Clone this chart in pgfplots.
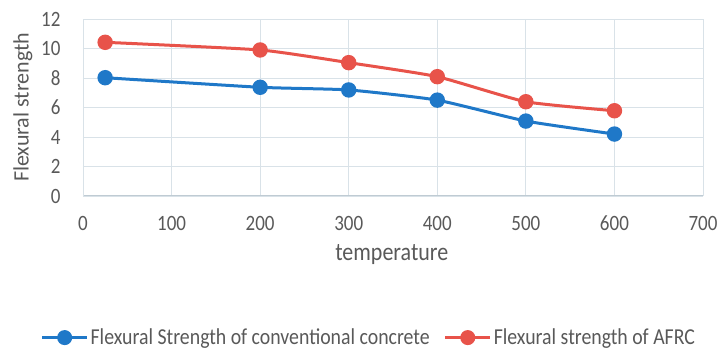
\documentclass[border=0pt]{standalone}
\usepackage{pgfplots}
\pgfplotsset{compat=1.18}
\usepackage{fontspec}
\setmainfont{Carlito}
\definecolor{txt}{HTML}{595959}
\definecolor{gridc}{HTML}{D9E2E8}
\definecolor{axc}{HTML}{BFCBD3}
\definecolor{cblue}{HTML}{1F78C8}
\definecolor{cred}{HTML}{E8534A}
\begin{document}
\begin{tikzpicture}[x=1pt,y=1pt]
\useasboundingbox (-83,-156) rectangle (636,196);
\begin{axis}[
  at={(0,0)}, anchor=south west,
  scale only axis, width=620pt, height=177pt,
  xmin=0, xmax=700, ymin=0, ymax=12,
  xtick={0,100,...,700}, ytick={0,2,...,12},
  grid=major,
  major grid style={gridc, line width=0.8pt},
  axis line style={gridc, line width=0.8pt},
  axis x line*=bottom, axis y line*=left,
  x axis line style={axc, line width=1pt},
  tick style={draw=none},
  ticklabel style={font=\fontsize{19}{22}\selectfont, text=txt, yscale=1.15},
  /pgf/number format/assume math mode=true,
  xticklabel style={anchor=center, yshift=-24pt},
  yticklabel style={anchor=east, xshift=-19pt},
  xlabel={temperature},
  ylabel={Flexural strength},
  label style={font=\fontsize{22}{26}\selectfont, text=txt},
  xlabel style={at={(axis description cs:0.498,-0.333)}, anchor=center, yscale=1.15},
  ylabel style={at={(axis description cs:-0.097,0.5)}, anchor=center},
  legend style={draw=none, fill=none, legend columns=2,
    at={(axis description cs:0.461,-0.80)}, anchor=center,
    font=\fontsize{19.8}{24}\selectfont, text=txt,
    nodes={yscale=1.15, inner xsep=2pt},
    /tikz/every even column/.append style={column sep=12pt}},
  legend image code/.code={
    \draw[#1, line width=3pt] (0pt,0pt) -- (45pt,0pt);
    \fill[#1] (22.5pt,0pt) circle (6pt);},
  clip=false,
]
\addplot[cblue, line width=3pt, smooth, tension=0.3, mark=*, mark size=6.2pt, mark options={solid, fill=cblue, draw=cblue}]
  coordinates {(25,8.02) (200,7.37) (300,7.19) (400,6.5) (500,5.08) (600,4.2)};
\addlegendentry{Flexural Strength of conventional concrete}
\addplot[cred, line width=3pt, smooth, tension=0.3, mark=*, mark size=6.2pt, mark options={solid, fill=cred, draw=cred}]
  coordinates {(25,10.42) (200,9.9) (300,9.04) (400,8.09) (500,6.39) (600,5.78)};
\addlegendentry{Flexural strength of AFRC}
\end{axis}
\end{tikzpicture}
\end{document}
